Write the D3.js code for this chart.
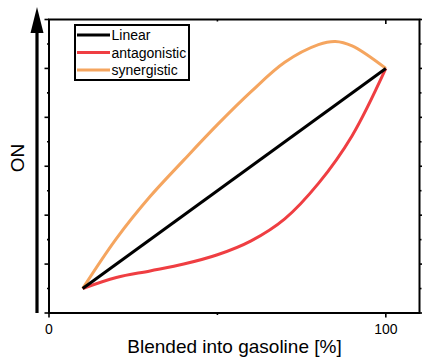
<!DOCTYPE html>
<html>
<head>
<meta charset="utf-8">
<script src="https://cdn.jsdelivr.net/npm/d3@7"></script>
<style>
  body { margin: 0; background: #fff; }
  text { font-family: "Liberation Sans", Arial, sans-serif; fill: #000; }
</style>
</head>
<body>
<div id="grafico"></div>
<script>
// datos
var series = ["Linear", "antagonistic", "synergistic"];
var colores = ["#000000", "#ef3e42", "#f5a55f"];

var xLineal = [10, 100];
var yLineal = [1, 10];

var xAntag = [10, 20, 30, 40, 50, 60, 70, 80, 90, 100];
var yAntag = [1, 1.45, 1.72, 2.0, 2.38, 2.95, 3.85, 5.3, 7.25, 10];

var xSiner = [10, 20, 30, 40, 50, 60, 70, 80, 85, 90, 100];
var ySiner = [1, 3.04, 4.76, 6.25, 7.7, 9.05, 10.25, 10.97, 11.1, 10.92, 10];

var xTicks = [0, 100];
var xTitulo = "Blended into gasoline [%]";
var yTitulo = "ON";

const ancho = 422, altura = 358;
const margen = { arriba: 19.5, derecha: 2.5, abajo: 45, izquierda: 49 };

var svg = d3.select("#grafico").append("svg")
    .attr("width", ancho)
    .attr("height", altura);

var x = d3.scaleLinear().domain([0, 110]).range([margen.izquierda, ancho - margen.derecha]);
var y = d3.scaleLinear().domain([0, 12]).range([altura - margen.abajo, margen.arriba]);

var x0 = x.range()[0], x1 = x.range()[1], y0 = y.range()[0], y1 = y.range()[1];

// ticks de los ejes
var g = svg.append("g").attr("stroke", "#000").attr("stroke-width", 1.6);
d3.range(0, 13).forEach(function (v) {
    var largo = (v % 2 === 0) ? 4.5 : 2;
    g.append("line").attr("x1", x0 - largo).attr("x2", x0).attr("y1", y(v)).attr("y2", y(v));
    g.append("line").attr("x1", x1).attr("x2", x1 + largo).attr("y1", y(v)).attr("y2", y(v));
});
[0, 50, 100].forEach(function (v) {
    var largo = (v % 100 === 0) ? 4.5 : 2;
    g.append("line").attr("x1", x(v)).attr("x2", x(v)).attr("y1", y0).attr("y2", y0 + largo);
    g.append("line").attr("x1", x(v)).attr("x2", x(v)).attr("y1", y1).attr("y2", y1 + largo);
});

// etiquetas eje x
svg.selectAll(".xlab")
    .data(xTicks)
    .enter().append("text")
    .attr("x", function (d) { return x(d); })
    .attr("y", 334)
    .attr("text-anchor", "middle")
    .style("font-size", "14px")
    .text(function (d) { return d; });

// lineas
var linea = d3.line()
    .x(function (d) { return x(d[0]); })
    .y(function (d) { return y(d[1]); })
    .curve(d3.curveCatmullRom.alpha(0.5));

var datos = [
    d3.zip(xLineal, yLineal),
    d3.zip(xAntag, yAntag),
    d3.zip(xSiner, ySiner)
];

// se dibuja naranja, rojo y luego negro encima
[2, 1, 0].forEach(function (i) {
    svg.append("path")
        .datum(datos[i])
        .attr("fill", "none")
        .attr("stroke", colores[i])
        .attr("stroke-width", 3)
        .attr("stroke-linejoin", "round")
        .attr("d", linea);
});

// marco
svg.append("rect")
    .attr("x", x0).attr("y", y1)
    .attr("width", x1 - x0).attr("height", y0 - y1)
    .attr("fill", "none")
    .attr("stroke", "#000")
    .attr("stroke-width", 2);

// flecha del eje y
svg.append("line")
    .attr("x1", 37).attr("x2", 37)
    .attr("y1", y0).attr("y2", 30)
    .attr("stroke", "#000").attr("stroke-width", 3.2);
svg.append("path")
    .attr("d", "M30.5,33 L43.5,33 L37,7 Z")
    .attr("fill", "#000");

// leyenda
var leyenda = svg.append("g");
leyenda.append("rect")
    .attr("x", 75).attr("y", 25)
    .attr("width", 114).attr("height", 55)
    .attr("fill", "#fff")
    .attr("stroke", "#000")
    .attr("stroke-width", 2);
series.forEach(function (s, i) {
    var yy = 35 + i * 17.5;
    leyenda.append("line")
        .attr("x1", 77).attr("x2", 110)
        .attr("y1", yy).attr("y2", yy)
        .attr("stroke", colores[i]).attr("stroke-width", 3);
    leyenda.append("text")
        .attr("x", 111.5).attr("y", yy + 5)
        .style("font-size", "14px")
        .text(s);
});

// titulos
svg.append("text")
    .attr("x", 234.5).attr("y", 353)
    .attr("text-anchor", "middle")
    .style("font-size", "19px")
    .text(xTitulo);

svg.append("text")
    .attr("transform", "translate(23.5,158) rotate(-90)")
    .attr("text-anchor", "middle")
    .style("font-size", "19px")
    .text(yTitulo);
</script>
</body>
</html>
